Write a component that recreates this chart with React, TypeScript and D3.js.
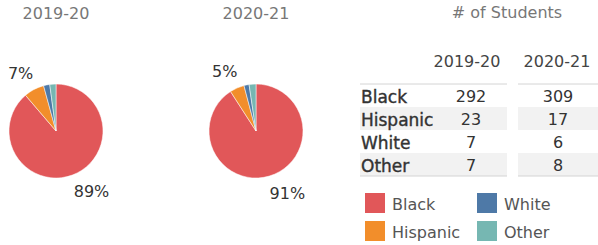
import * as d3 from 'd3';
import React from 'react';

const races = ['Black', 'Hispanic', 'White', 'Other'];
const years = ['2019-20', '2020-21'];
const students2019 = [292, 23, 7, 7];
const students2020 = [309, 17, 6, 8];
const colors = ['#e15759', '#f28e2b', '#4e79a7', '#76b7b2'];
const shownLabels = ['Black', 'Hispanic'];

const W = 598;
const H = 245;
const FONT = '"DejaVu Sans", sans-serif';

function Pie({ cx, title, values }: { cx: number; title: string; values: number[] }) {
  const cy = 131;
  const r = 47;
  const total = d3.sum(values);
  const pie = d3.pie<number>().sort(null).value((d) => d)(values);
  const arc = d3.arc<d3.PieArcDatum<number>>().innerRadius(0).outerRadius(r);
  const fmt = d3.format('.0%');
  return (
    <g>
      <text x={cx} y={19} textAnchor="middle" fontSize={16} fill="#777">{title}</text>
      <g transform={`translate(${cx},${cy})`}>
        {pie.map((p, i) => (
          <path key={i} d={arc(p) || ''} fill={colors[i]} stroke="#fff" strokeWidth={0.5} />
        ))}
        {pie.map((p, i) => {
          if (!shownLabels.includes(races[i])) return null;
          const a = (p.startAngle + p.endAngle) / 2;
          const R = 65;
          const x = R * Math.sin(a);
          const y = -R * Math.cos(a);
          // nudge labels away from the pie like Tableau does
          const shift = Math.sin(a) > 0.2 ? 13 : Math.sin(a) < -0.2 ? -5 : 0;
          return (
            <text key={'l' + i} x={x + shift} y={y} textAnchor="middle" dominantBaseline="central"
              fontSize={16} fill="#333">{fmt(values[i] / total)}</text>
          );
        })}
      </g>
    </g>
  );
}

export default function App() {
  const rowY = d3.scaleBand<string>().domain(races).range([84, 176]);
  const bands = [
    { x0: 360, x1: 507, labelX: 361, valueX: 471, values: students2019 },
    { x0: 518, x1: 598, labelX: 0, valueX: 558, values: students2020 },
  ];
  const legendX = d3.scaleOrdinal<string, number>().domain(races).range([365, 365, 477, 477]);
  const legendY = d3.scaleOrdinal<string, number>().domain(races).range([193, 221, 193, 221]);

  return (
    <svg width={W} height={H} style={{ position: 'absolute', left: 0, top: 0, fontFamily: FONT }}>
      <rect width={W} height={H} fill="#fff" />
      <Pie cx={56} title={years[0]} values={students2019} />
      <Pie cx={256} title={years[1]} values={students2020} />

      <text x={507} y={18} textAnchor="middle" fontSize={16} fill="#777"># of Students</text>
      <text x={467} y={67} textAnchor="middle" fontSize={16} fill="#444">{years[0]}</text>
      <text x={557} y={67} textAnchor="middle" fontSize={16} fill="#444">{years[1]}</text>

      {bands.map((b, bi) => (
        <g key={bi}>
          {races.map((race, i) => (
            <g key={race}>
              {i % 2 === 1 && (
                <rect x={b.x0} y={rowY(race)} width={b.x1 - b.x0} height={rowY.bandwidth()} fill="#f2f2f2" />
              )}
              {bi === 0 && (
                <text x={b.labelX} y={(rowY(race) || 0) + rowY.bandwidth() / 2 + 1} dominantBaseline="central"
                  fontSize={17} fill="#333" stroke="#333" strokeWidth={0.4}>{race}</text>
              )}
              <text x={b.valueX} y={(rowY(race) || 0) + rowY.bandwidth() / 2 + 1} dominantBaseline="central"
                textAnchor="middle" fontSize={16} fill="#333">{b.values[i]}</text>
            </g>
          ))}
          <line x1={b.x0} x2={b.x1} y1={84} y2={84} stroke="#d4d4d4" strokeWidth={1} />
          <line x1={b.x0} x2={b.x1} y1={176} y2={176} stroke="#d4d4d4" strokeWidth={1} />
        </g>
      ))}

      {races.map((race, i) => (
        <g key={race} transform={`translate(${legendX(race)},${legendY(race)})`}>
          <rect width={20} height={20} fill={colors[i]} />
          <text x={27} y={11} dominantBaseline="central" fontSize={16} fill="#555">{race}</text>
        </g>
      ))}
    </svg>
  );
}
